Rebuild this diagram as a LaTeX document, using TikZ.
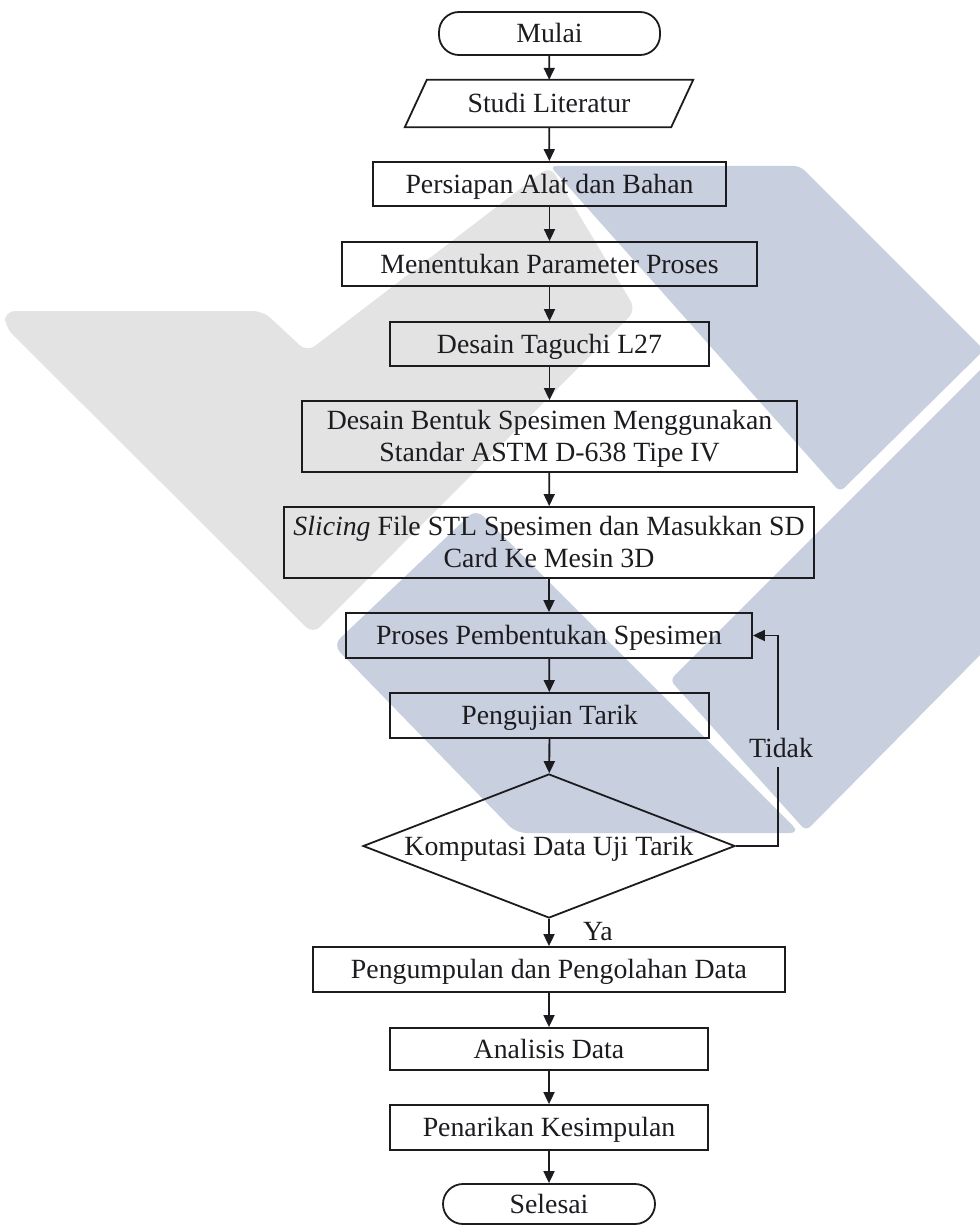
\documentclass[tikz,border=0pt]{standalone}
\usepackage{fontspec}
\setmainfont{Liberation Serif}
\usetikzlibrary{arrows.meta,shapes.geometric,calc}
\definecolor{wmgray}{RGB}{227,227,227}
\definecolor{wmblue}{RGB}{200,207,222}
\definecolor{ink}{RGB}{28,28,32}
\begin{document}
\begin{tikzpicture}[x=1pt,y=-1pt,
  txt/.style={text=ink, font=\fontsize{27.8}{32}\selectfont, text height=18.5pt, text depth=0pt, align=center},
  proc/.style={txt, draw=ink, line width=1.8pt, inner sep=0pt, rectangle},
  twoline/.style={text height=50.5pt},
  term/.style={proc, rounded corners=20pt},
  decis/.style={txt, draw=ink, line width=1.8pt, inner sep=0pt, diamond, aspect=2.58},
  conn/.style={draw=ink, line width=1.8pt},
  arr/.style={conn, -{Triangle[length=12pt,width=11pt]}}
]
\useasboundingbox (0,0) rectangle (979,1225);
% watermark
\fill[wmgray, rounded corners=10pt] (130,311) -- (263,311) -- (307,352) -- (550,166) -- (636,310) -- (313,634) -- (5,327) -- (5,311) -- cycle;
\fill[wmblue, rounded corners=6pt] (550,166) -- (800,166) -- (984,350) -- (840,492) -- cycle;
\fill[wmblue, rounded corners=6pt] (670,680) -- (984,366) -- (984,651) -- (806,831) -- cycle;
\fill[wmblue, rounded corners=10pt] (333,645) -- (476,509) -- (800,833) -- (516,833) -- cycle;

% nodes
\node[term, minimum width=221pt, minimum height=43pt] (mulai) at (549.5,33.5) {Mulai};
\node[txt, inner sep=0pt, minimum width=288pt, minimum height=47pt] (studi) at (549,103.5) {Studi Literatur};
\draw[draw=ink, line width=1.8pt] ([xshift=22pt]studi.north west) -- (studi.north east) -- ([xshift=-22pt]studi.south east) -- (studi.south west) -- cycle;
\node[proc, minimum width=353pt, minimum height=44pt] (persiapan) at (549.5,184) {Persiapan Alat dan Bahan};
\node[proc, minimum width=415pt, minimum height=44pt] (param) at (549.5,264) {Menentukan Parameter Proses};
\node[proc, minimum width=319pt, minimum height=44pt] (taguchi) at (549.5,344) {Desain Taguchi L27};
\node[proc, twoline, minimum width=495pt, minimum height=71pt] (bentuk) at (549.5,436.5) {Desain Bentuk Spesimen Menggunakan\\Standar ASTM D-638 Tipe IV};
\node[proc, twoline, minimum width=530pt, minimum height=71pt] (slicing) at (549,542.5) {\textit{Slicing} File STL Spesimen dan Masukkan SD\\Card Ke Mesin 3D};
\node[proc, minimum width=406pt, minimum height=45pt] (proses) at (549,635.5) {Proses Pembentukan Spesimen};
\node[proc, minimum width=319pt, minimum height=45pt] (uji) at (549.5,715.5) {Pengujian Tarik};
\node[decis, minimum width=372pt, minimum height=144pt] (komp) at (549,846) {Komputasi Data Uji Tarik};
\node[proc, minimum width=472pt, minimum height=45pt] (kumpul) at (549,969.5) {Pengumpulan dan Pengolahan Data};
\node[proc, minimum width=318pt, minimum height=42pt] (analisis) at (549,1049) {Analisis Data};
\node[proc, minimum width=318pt, minimum height=45pt] (tarik) at (549,1127.5) {Penarikan Kesimpulan};
\node[term, minimum width=212pt, minimum height=40pt] (selesai) at (549,1204) {Selesai};

\node[txt, inner sep=0pt] (tidak) at (781,748.5) {Tidak};
\node[txt, inner sep=0pt] (ya) at (598,931) {Ya};
\coordinate (t1) at (778,767);
\coordinate (t2) at (778,730);

% connectors
\draw[arr] (mulai) -- (studi);
\draw[arr] (studi) -- (persiapan);
\draw[arr] (persiapan) -- (param);
\draw[arr] (param) -- (taguchi);
\draw[arr] (taguchi) -- (bentuk);
\draw[arr] (bentuk) -- (slicing);
\draw[arr] (slicing) -- (proses);
\draw[arr] (proses) -- (uji);
\draw[arr] (uji) -- (komp);
\draw[arr] (komp) -- (kumpul);
\draw[arr] (kumpul) -- (analisis);
\draw[arr] (analisis) -- (tarik);
\draw[arr] (tarik) -- (selesai);
\draw[conn] (komp.east) -| (t1);
\draw[arr] (t2) |- (proses.east);
\end{tikzpicture}
\end{document}
